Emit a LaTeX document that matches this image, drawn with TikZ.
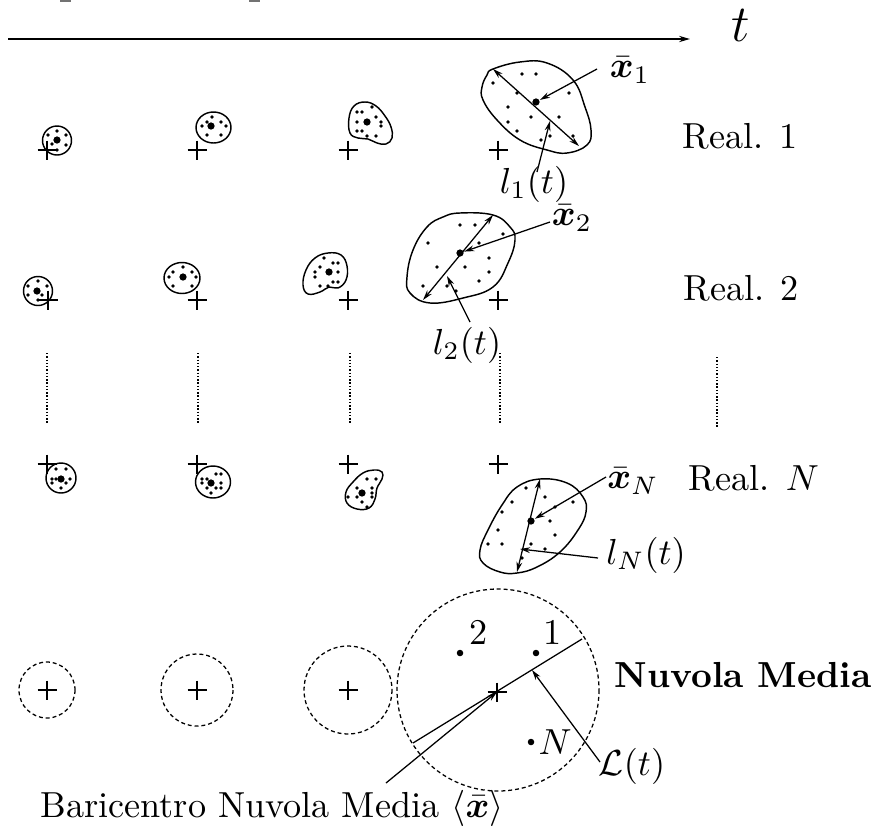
\documentclass[tikz,border=0pt]{standalone}
\usepackage{bm}
\usetikzlibrary{arrows.meta}
\begin{document}
\begin{tikzpicture}[x=0.2762pt,y=-0.2762pt,
  outline/.style={line width=0.4pt},
  pointer/.style={line width=0.35pt,-{Stealth[length=2.8pt,width=1.6pt]}},
  axisarrow/.style={line width=0.35pt,{Stealth[length=2.8pt,width=1.6pt]}-{Stealth[length=2.8pt,width=1.6pt]}},
  timeaxis/.style={line width=0.5pt,-{Stealth[length=3pt,width=1.7pt]}},
  dotline/.style={line width=0.45pt,dash pattern=on 0.4pt off 0.5pt},
  meancircle/.style={line width=0.35pt,dash pattern=on 1.1pt off 0.8pt},
  centre/.style={circle,fill,inner sep=0pt,minimum size=2pt},
  member/.style={circle,fill,inner sep=0pt,minimum size=1.8pt},
  lbl/.style={inner sep=0pt},
  plus/.pic={\draw[line width=0.35pt] (-9.5,0) -- (9.5,0) (0,-9.5) -- (0,9.5);}
]
\useasboundingbox (0,0) rectangle (879,836);

% cut-off marks along the top edge
\fill[black!55] (60,0) rectangle (71,1.6);
\fill[black!55] (249,0) rectangle (260,1.6);

% time axis
\coordinate (t0) at (8,39);
\coordinate (t1) at (690,39);
\draw[timeaxis] (t0) -- (t1);
\node[lbl,font=\Large] (tlab) at (741,25) {$t$};

% small dot helper
\def\pts#1{\foreach \p in {#1} \fill \p circle[radius=1.8];}

% ---------------- realisation 1 ----------------
\draw[outline] (57,140.5) circle[radius=14.5];
\node[centre] (r1a) at (57,140) {};
\pts{(48,135),(57,131),(66,135),(52,144),(57,150),(66,145)}
\pic at (47,150) {plus};

\draw[outline] (213.5,127.5) ellipse[x radius=17.5,y radius=15.5];
\node[centre] (r1b) at (211,126) {};
\pts{(212,117),(207,122),(221,122),(202,126),(226,126),(207,135),(221,135)}
\pic at (197,150) {plus};

\draw[outline] plot[smooth cycle,tension=0.7] coordinates{(349,118) (354,106) (365,102) (376,106) (385,116) (391,127) (392,138) (386,144) (377,143) (368,139) (358,138) (350,133)};
\node[centre] (r1c) at (367,122) {};
\pts{(357,112),(362,112),(372,107),(376,117),(381,122),(381,126),(357,122),(357,131),(362,131),(367,136),(376,136)}
\pic at (348,150) {plus};

\draw[outline] plot[smooth cycle,tension=0.7] coordinates{(493,69) (520,62) (547,63) (573,80) (585,107) (591,130) (587,145) (567,153) (547,150) (520,140) (497,120) (483,100) (482,87) (487,75)};
\node[centre] (g1) at (536,102) {};
\pts{(522,74),(536,74),(493,83),(517,93),(569,93),(508,107),(531,117),(559,117),(508,122),(517,131),(541,140),(550,136),(573,136)}
\coordinate (a1) at (493,69);
\coordinate (b1) at (579,146);
\draw[axisarrow] (a1) -- (b1);
\pic at (498,150) {plus};
\node[lbl] (x1) at (630,70) {$\bar{\bm{x}}_1$};
\coordinate (x1tail) at (597,69);
\draw[pointer] (x1tail) -- (g1);
\node[lbl] (l1) at (534,184) {$l_1(t)$};
\coordinate (l1tail) at (537,172);
\coordinate (l1tip) at (550,121);
\draw[pointer] (l1tail) -- (l1tip);
\node[lbl,anchor=base west] (real1) at (682,148) {Real. 1};

% ---------------- realisation 2 ----------------
\draw[outline] (38,291) circle[radius=14.5];
\node[centre] (r2a) at (37,291) {};
\pts{(28,286),(38,281),(47,286),(28,295),(38,300),(42,295)}
\pic at (48,300) {plus};

\draw[outline] (182,278) ellipse[x radius=18,y radius=15.5];
\node[centre] (r2b) at (183,277) {};
\pts{(183,267),(173,272),(192,272),(169,277),(196,277),(173,286),(192,286)}
\pic at (197,300) {plus};

\draw[outline] plot[smooth cycle,tension=0.7] coordinates{(328,253) (341,255) (347,266) (346,280) (338,288) (329,287) (320,292) (308,294) (303,285) (306,270) (315,258)};
\node[centre] (r2c) at (329,272) {};
\pts{(324,258),(333,263),(338,263),(320,267),(315,272),(338,272),(315,277),(333,282),(338,282),(320,286),(328,286)}
\pic at (348,300) {plus};

\draw[outline] plot[smooth cycle,tension=0.7] coordinates{(460,213) (493,215) (510,227) (515,240) (508,263) (493,287) (463,298) (430,303) (410,293) (407,277) (413,250) (427,227) (443,217)};
\node[centre] (g2) at (460,253) {};
\pts{(460,225),(475,225),(503,234),(428,243),(479,243),(489,258),(437,267),(465,267),(489,272),(479,281),(423,286),(447,286),(456,291)}
\coordinate (a2) at (493,215);
\coordinate (b2) at (423,300);
\draw[axisarrow] (a2) -- (b2);
\pic at (498,300) {plus};
\node[lbl] (x2) at (572,218) {$\bar{\bm{x}}_2$};
\coordinate (x2tail) at (550,222);
\draw[pointer] (x2tail) -- (g2);
\node[lbl] (l2) at (467,345) {$l_2(t)$};
\coordinate (l2tail) at (470,322);
\coordinate (l2tip) at (447,276);
\draw[pointer] (l2tail) -- (l2tip);
\node[lbl,anchor=base west] (real2) at (683,300) {Real. 2};

% ---------------- elided realisations ----------------
\foreach \xx in {47,198,350,500} \draw[dotline] (\xx,353) -- (\xx,424);
\draw[dotline] (717,357) -- (717,428);

% ---------------- realisation N ----------------
\draw[outline] (61,478) circle[radius=15];
\node[centre] (rNa) at (61,479) {};
\pts{(56,469),(66,469),(52,479),(56,479),(70,479),(52,483),(66,483),(61,488)}
\pic at (47,464) {plus};

\draw[outline] (213,482) ellipse[x radius=17.5,y radius=16];
\node[centre] (rNb) at (211,483) {};
\pts{(216,474),(221,474),(202,479),(207,479),(221,483),(202,483),(207,488),(216,488),(221,488),(211,493)}
\pic at (197,464) {plus};

\draw[outline] plot[smooth cycle,tension=0.7] coordinates{(363,473) (374,470) (382,472) (382,479) (377,488) (375,499) (369,508) (357,509) (347,503) (346,492) (353,482)};
\node[centre] (rNc) at (362,493) {};
\pts{(367,479),(376,479),(357,488),(372,488),(348,497),(357,497),(372,493),(372,497),(362,502),(367,507)}
\pic at (348,464) {plus};

\draw[outline] plot[smooth cycle,tension=0.7] coordinates{(540,479) (567,483) (583,497) (586,512) (578,530) (560,552) (537,567) (517,573) (500,572) (483,563) (480,550) (488,530) (502,505) (517,487)};
\node[centre] (gN) at (531,521) {};
\pts{(526,488),(545,497),(573,502),(512,502),(502,512),(555,507),(550,521),(498,530),(555,535),(488,544),(502,544),(531,544),(545,549),(522,558)}
\coordinate (aN) at (540,479);
\coordinate (bN) at (517,572);
\draw[axisarrow] (aN) -- (bN);
\pic at (498,464) {plus};
\node[lbl] (xN) at (633,481) {$\bar{\bm{x}}_N$};
\coordinate (xNtail) at (606,477);
\draw[pointer] (xNtail) -- (gN);
\node[lbl] (lN) at (646,555) {$l_N(t)$};
\coordinate (lNtail) at (598,558);
\coordinate (lNtip) at (520,549);
\draw[pointer] (lNtail) -- (lNtip);
\node[lbl,anchor=base west] (realN) at (688,490) {Real. $N$};

% ---------------- mean cloud ----------------
\draw[meancircle] (47,690) circle[radius=28];
\pic at (47,690) {plus};
\draw[meancircle] (197,690) circle[radius=36];
\pic at (197,690) {plus};
\draw[meancircle] (348,690) circle[radius=44];
\pic at (348,690) {plus};
\draw[meancircle] (498,690) circle[radius=101];
\coordinate (bary) at (497,692);
\pic at (bary) {plus};

\node[member] (m2) at (460,653) {};
\node[lbl,anchor=south west] at (469,645) {2};
\node[member] (m1) at (536,653) {};
\node[lbl,anchor=south west] at (543,645) {1};
\node[member] (mN) at (531,742) {};
\node[lbl,anchor=west] at (538,742) {$N$};

\coordinate (La) at (413,743);
\coordinate (Lb) at (582,639);
\draw[line width=0.35pt] (La) -- (Lb);
\coordinate (Ltip) at (532,670);
\node[lbl] (Llab) at (632,766) {$\mathcal{L}(t)$};
\coordinate (Ltail) at (600,762);
\draw[pointer] (Ltail) -- (Ltip);

\node[lbl,font=\bfseries] (mean) at (743,675) {Nuvola Media};

\node[lbl] (barlab) at (272,808) {Baricentro Nuvola Media $\langle\bar{\bm{x}}\rangle$};
\coordinate (bartail) at (386,783);
\draw[pointer] (bartail) -- (bary);
\end{tikzpicture}
\end{document}
